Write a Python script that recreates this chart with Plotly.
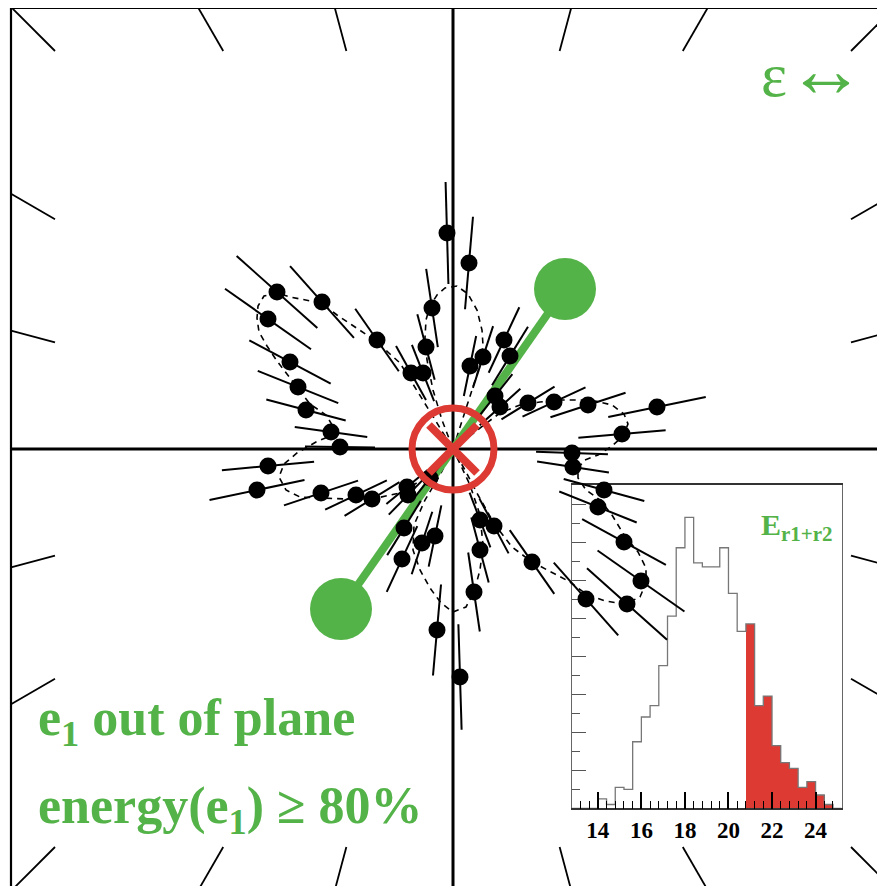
import math
import plotly.graph_objects as go

# ---------------- data (event display units: centre = 0,0, y up) ----------------
dot_x = [-176, -131, -185, -76, -163, -155, -147, -122, -113, -42, -30, -27, -21, -6, 16,
         17, 30, 51, 57, 42, 47, 75, 101, 135, 204, 169, 119, 120, 151, 145, 171, 188,
         174, 133, 79, 27, 41, 27, 21, -16, 7, -46, -45, -49, -31, -18, -51, -23, -185,
         -196, -132, -97, -81]
dot_y = [157, 147, 130, 109, 87, 62, 39, 17, 2, 76, 76, 102, 141, 216, 186,
         83, 92, 109, 93, 53, 42, 46, 47, 44, 42, 15, -4, -18, -41, -58, -93, -132,
         -155, -150, -113, -71, -77, -101, -143, -181, -228, -38, -46, -79, -94, -87, -110, -29, -17,
         -41, -44, -46, -50]

curve_x = [0, 9, 19, 27, 30, 29, 24, 15, 4, -8, -16, -23, -27, -28, -26, -20, -11, 0,
           -23, -41, -53, -63, -77, -101, -116, -132, -148, -163, -176, -189, -195, -196, -194,
           -186, -176, -165, -154, -143, -127, -119, -123, -137, -156, -169, -174, -167, -153,
           -133, -108, -81, -53, -28, 0,
           -13, -28, -39, -40, -33, -23, -12, 0, 13, 21, 27, 30, 27, 17, 0,
           12, 25, 42, 59, 79, 102, 117, 133, 152, 172, 187, 193, 193, 185, 171, 159, 147,
           133, 125, 125, 132, 145, 159, 170, 175, 171, 159, 142, 125, 107, 87, 67, 47, 27, 0]
curve_y = [0, 29, 59, 84, 104, 119, 139, 155, 163, 161, 154, 143, 129, 111, 89, 59, 29, 0,
           37, 67, 86, 95, 108, 124, 134, 146, 149, 152, 156, 153, 143, 131, 117,
           103, 88, 74, 59, 45, 34, 21, 13, 7, -4, -15, -28, -41, -48,
           -49, -50, -50, -44, -29, 0,
           -26, -51, -76, -101, -121, -139, -154, -163, -158, -143, -121, -96, -66, -36, 0,
           -21, -46, -76, -98, -113, -125, -133, -145, -152, -155, -148, -134, -119, -103, -86, -66, -51,
           -41, -29, -19, -11, -6, 3, 13, 25, 35, 44, 48, 49, 49, 47, 44, 36, 21, 0]

axis_x = [112, -112]          # event axis (green) end points
axis_y = [160, -160]
target_x = [0]                # vertex marker
target_y = [0]

tick_angles = [15, 30, 45, 60, 75, 105, 120, 135, 150, 165,
               195, 210, 225, 240, 255, 285, 300, 315, 330, 345]
frame_half = 442
tick_inner = 398

hist_lo = [12.8, 13.2, 13.6, 14.0, 14.4, 14.8, 15.2, 15.6, 16.0, 16.4, 16.8, 17.2, 17.6,
           18.0, 18.4, 18.8, 19.2, 19.6, 20.0, 20.4, 20.8, 21.2, 21.6, 22.0, 22.4, 22.8,
           23.2, 23.6, 24.0, 24.4, 24.8]
hist_counts = [0, 0, 0, 5, 2, 11, 10, 35, 48, 54, 75, 101, 137, 153, 129, 127, 127, 137,
               113, 93, 97, 54, 59, 33, 24, 21, 11, 14, 7, 2, 0]
bin_w = 0.4
cut = 20.8

GREEN = "#54b348"
RED = "#dc3a33"
SERIF = "Liberation Serif"

# page offset of the plot div (browser body margin)
OFF = 8
W, H = 885 - OFF, 886 - OFF

fig = go.Figure()

# ---------------- inset histogram (x / y) ----------------
sel_x = [lo + bin_w / 2 for lo, c in zip(hist_lo, hist_counts) if lo >= cut - 1e-9]
sel_y = [c for lo, c in zip(hist_lo, hist_counts) if lo >= cut - 1e-9]
fig.add_trace(go.Bar(x=sel_x, y=sel_y, width=bin_w, marker=dict(color=RED, line=dict(width=0)),
                     xaxis="x", yaxis="y", showlegend=False, hoverinfo="skip"))
fig.add_trace(go.Scatter(x=hist_lo + [hist_lo[-1] + bin_w], y=hist_counts + [hist_counts[-1]],
                         mode="lines", line=dict(shape="hv", color="#777777", width=1.3),
                         xaxis="x", yaxis="y", showlegend=False, hoverinfo="skip"))

# ---------------- main event display (x2 / y2) ----------------
def main(tr):
    tr.update(xaxis="x2", yaxis="y2", showlegend=False, hoverinfo="skip")
    fig.add_trace(tr)

h = frame_half
main(go.Scatter(x=[-h, h, h, -h, -h], y=[-h, -h, h - 1, h - 1, -h], mode="lines",
                line=dict(color="black", width=2.2)))
main(go.Scatter(x=[-h, h, None, 0, 0], y=[0, 0, None, -h, h], mode="lines",
                line=dict(color="black", width=3)))

tx, ty = [], []
for a in tick_angles:
    c, s = math.cos(math.radians(a)), math.sin(math.radians(a))
    m = max(abs(c), abs(s))
    tx += [frame_half / m * c, tick_inner / m * c, None]
    ty += [frame_half / m * s, tick_inner / m * s, None]
main(go.Scatter(x=tx, y=ty, mode="lines", line=dict(color="black", width=1.8)))

main(go.Scatter(x=curve_x, y=curve_y, mode="lines",
                line=dict(color="black", width=1.6, dash="6px,5px")))

main(go.Scatter(x=axis_x, y=axis_y, mode="lines", line=dict(color=GREEN, width=8)))

sx, sy = [], []
for x, y in zip(dot_x, dot_y):
    r = math.hypot(x, y)
    ux, uy = x / r, y / r
    half = (35 + 0.31 * r) / 2
    sx += [x - ux * half, x + ux * half, None]
    sy += [y - uy * half, y + uy * half, None]
main(go.Scatter(x=sx, y=sy, mode="lines", line=dict(color="black", width=2)))

main(go.Scatter(x=dot_x, y=dot_y, mode="markers",
                marker=dict(color="black", size=17, line=dict(width=0))))

main(go.Scatter(x=axis_x, y=axis_y, mode="markers",
                marker=dict(color=GREEN, size=62, line=dict(width=0))))

main(go.Scatter(x=target_x, y=target_y, mode="markers",
                marker=dict(symbol="circle-open", size=82, color=RED,
                            line=dict(color=RED, width=7))))
arm = 24
cx, cy = target_x[0], target_y[0]
main(go.Scatter(x=[cx - arm, cx + arm, None, cx - arm, cx + arm],
                y=[cy + arm, cy - arm, None, cy - arm, cy + arm],
                mode="lines", line=dict(color=RED, width=8)))

# ---------------- texts ----------------
ann = []
ann.append(dict(x=-417, y=-272, xref="x2", yref="y2", xanchor="left", yanchor="middle",
                text="e<sub>1</sub> out of plane", showarrow=False,
                font=dict(family=SERIF, size=52, color=GREEN, weight="bold")))
ann.append(dict(x=-417, y=-360, xref="x2", yref="y2", xanchor="left", yanchor="middle",
                text="energy(e<sub>1</sub>) \u2265 80%", showarrow=False,
                font=dict(family=SERIF, size=52, color=GREEN, weight="bold")))
ann.append(dict(x=306, y=-78, xref="x2", yref="y2", xanchor="left", yanchor="middle",
                text="E<sub>r1+r2</sub>", showarrow=False,
                font=dict(family=SERIF, size=30, color=GREEN, weight="bold")))
ann.append(dict(x=306, y=380, xref="x2", yref="y2", xanchor="left", yanchor="middle",
                text="\u03b5<span style='font-size:78px'>\u2194</span>", showarrow=False,
                font=dict(family=SERIF, size=62, color=GREEN)))

fig.update_layout(
    width=W, height=H,
    margin=dict(l=0, r=0, t=0, b=0, pad=0),
    paper_bgcolor="white", plot_bgcolor="rgba(0,0,0,0)",
    showlegend=False, bargap=0,
    annotations=ann,
    xaxis=dict(domain=[(571.7 - OFF) / W, (841.7 - OFF) / W], range=[12.8, 25.2], showgrid=False,
               zeroline=False, showline=True, linecolor="#333333", linewidth=1.5, mirror=True,
               ticks="inside", tick0=0, dtick=2, ticklen=17, tickwidth=1.5, tickcolor="black",
               minor=dict(ticks="inside", dtick=0.4, tick0=0, ticklen=8, tickwidth=1.3,
                          tickcolor="black"),
               tickfont=dict(family=SERIF, size=23, color="black", weight="bold")),
    yaxis=dict(domain=[(886 - 808.3) / H, (886 - 485) / H], range=[0, 170],
               showgrid=False, zeroline=False, showline=True, linecolor="#666666",
               linewidth=1.3, mirror=True, ticks="inside", tick0=0, dtick=20, ticklen=14,
               tickwidth=1.3, tickcolor="#555555", showticklabels=False,
               minor=dict(ticks="inside", dtick=10, tick0=0, ticklen=8, tickwidth=1.3,
                          tickcolor="#555555")),
    xaxis2=dict(domain=[0, 1], range=[OFF - 453, 885 - 453], visible=False, anchor="y2"),
    yaxis2=dict(domain=[0, 1], range=[449 - 886, 449 - OFF], visible=False, anchor="x2"),
)

fig.write_html("out.html")
